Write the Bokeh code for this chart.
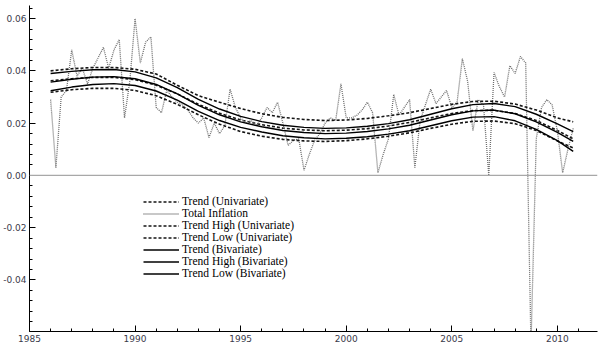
import numpy as np
from bokeh.plotting import figure
from bokeh.models import (Range1d, FixedTicker, PrintfTickFormatter, Span,
                          Legend, LegendItem)
from bokeh.embed import file_html
from bokeh.resources import INLINE

# ---------------- data ----------------
# Total inflation, quarterly from 1986Q1 to 2010Q4
infl_start_year = 1986
infl = [
    0.029, 0.003, 0.030, 0.0325, 0.048, 0.038, 0.041, 0.035,     # 1986-1987
    0.041, 0.045, 0.049, 0.041, 0.048, 0.052, 0.022, 0.036,      # 1988-1989
    0.060, 0.043, 0.051, 0.053, 0.026, 0.024, 0.0325, 0.030,     # 1990-1991
    0.028, 0.027, 0.025, 0.022, 0.020, 0.022, 0.0145, 0.020,     # 1992-1993
    0.016, 0.019, 0.033, 0.026, 0.022, 0.020, 0.021, 0.019,      # 1994-1995
    0.022, 0.026, 0.024, 0.028, 0.020, 0.0115, 0.0134, 0.014,    # 1996-1997
    0.002, 0.008, 0.0134, 0.016, 0.020, 0.022, 0.021, 0.035,     # 1998-1999
    0.022, 0.022, 0.023, 0.025, 0.028, 0.024, 0.001, 0.008,      # 2000-2001
    0.014, 0.031, 0.023, 0.026, 0.029, 0.003, 0.021, 0.027,      # 2002-2003
    0.033, 0.0275, 0.030, 0.0325, 0.026, 0.028, 0.0447, 0.036,   # 2004-2005
    0.017, 0.029, 0.027, 0.000, 0.0394, 0.034, 0.030, 0.042,     # 2006-2007
    0.039, 0.0455, 0.043, -0.065, 0.014, 0.026, 0.029, 0.027,    # 2008-2009
    0.017, 0.001, 0.010, 0.018,                                  # 2010
]
infl_years = [infl_start_year + i / 4 for i in range(len(infl))]

trend_years = [1986, 1987, 1988, 1989, 1990, 1991, 1992, 1993, 1994, 1995,
               1996, 1997, 1998, 1999, 2000, 2001, 2002, 2003, 2004, 2005,
               2006, 2007, 2008, 2009, 2010, 2010.75]

trend_uni = [0.0362, 0.0370, 0.0375, 0.0375, 0.0366, 0.0345, 0.0312, 0.0272,
             0.0238, 0.0212, 0.0194, 0.0181, 0.0174, 0.0171, 0.0173, 0.0179,
             0.0189, 0.0203, 0.0220, 0.0237, 0.0248, 0.0249, 0.0237, 0.0210,
             0.0172, 0.0140]
trend_uni_high = [0.0400, 0.0408, 0.0413, 0.0413, 0.0406, 0.0388, 0.0345, 0.0305,
                  0.0280, 0.0256, 0.0236, 0.0222, 0.0214, 0.0210, 0.0212, 0.0218,
                  0.0228, 0.0240, 0.0256, 0.0272, 0.0283, 0.0284, 0.0273, 0.0250,
                  0.0220, 0.0205]
trend_uni_low = [0.0318, 0.0328, 0.0333, 0.0333, 0.0325, 0.0305, 0.0272, 0.0232,
                 0.0196, 0.0168, 0.0150, 0.0138, 0.0132, 0.0130, 0.0133, 0.0140,
                 0.0150, 0.0163, 0.0180, 0.0196, 0.0207, 0.0208, 0.0198, 0.0172,
                 0.0132, 0.0105]
trend_bi = [0.0357, 0.0368, 0.0376, 0.0378, 0.0370, 0.0348, 0.0312, 0.0268,
            0.0232, 0.0205, 0.0186, 0.0172, 0.0164, 0.0160, 0.0162, 0.0168,
            0.0178, 0.0192, 0.0212, 0.0232, 0.0247, 0.0250, 0.0236, 0.0205,
            0.0165, 0.0130]
trend_bi_high = [0.0390, 0.0398, 0.0404, 0.0405, 0.0396, 0.0373, 0.0336, 0.0291,
                 0.0254, 0.0226, 0.0206, 0.0192, 0.0184, 0.0180, 0.0182, 0.0188,
                 0.0198, 0.0213, 0.0234, 0.0255, 0.0271, 0.0275, 0.0263, 0.0234,
                 0.0197, 0.0168]
trend_bi_low = [0.0324, 0.0338, 0.0348, 0.0351, 0.0344, 0.0323, 0.0288, 0.0245,
                0.0210, 0.0184, 0.0166, 0.0152, 0.0144, 0.0140, 0.0142, 0.0148,
                0.0158, 0.0171, 0.0190, 0.0209, 0.0223, 0.0225, 0.0209, 0.0176,
                0.0133, 0.0092]

x_major = [1985, 1990, 1995, 2000, 2005, 2010]
y_major = [-0.04, -0.02, 0.0, 0.02, 0.04, 0.06]

# ---------------- figure ----------------
p = figure(width=600, height=351, output_backend="svg", toolbar_location=None,
           x_range=Range1d(1985, 2011.9), y_range=Range1d(-0.0597, 0.065),
           min_border_left=29, min_border_right=3, min_border_top=5,
           min_border_bottom=20)
p.outline_line_color = None
p.grid.visible = False
p.background_fill_color = "white"

p.add_layout(Span(location=0, dimension="width", line_color="#a8a8a8",
                  line_width=1.2))

dash_col = "#151515"
r_uni = p.line(trend_years, trend_uni, line_color=dash_col, line_width=1.6,
               line_dash="3 2")
r_tot = p.line(infl_years, infl, line_color="#6e6e6e", line_width=1.3,
               line_dash="1 1")
r_uh = p.line(trend_years, trend_uni_high, line_color=dash_col, line_width=1.6,
              line_dash="3 2")
r_ul = p.line(trend_years, trend_uni_low, line_color=dash_col, line_width=1.6,
              line_dash="3 2")
r_bi = p.line(trend_years, trend_bi, line_color="#000000", line_width=1.4)
r_bh = p.line(trend_years, trend_bi_high, line_color="#000000", line_width=1.4)
r_bl = p.line(trend_years, trend_bi_low, line_color="#000000", line_width=1.4)

# axes
xa = p.xaxis[0]
xa.ticker = FixedTicker(ticks=x_major,
                        minor_ticks=list(np.arange(1985, 2012, 1.0)))
ya = p.yaxis[0]
ya.ticker = FixedTicker(ticks=y_major,
                        minor_ticks=list(np.round(np.arange(-0.06, 0.0641, 0.004), 4)))
ya.formatter = PrintfTickFormatter(format="%.2f")
for ax in (xa, ya):
    ax.axis_line_color = "black"
    ax.axis_line_width = 1
    ax.major_tick_in = 6
    ax.major_tick_out = 0
    ax.minor_tick_in = 3
    ax.minor_tick_out = 0
    ax.major_tick_line_color = "black"
    ax.minor_tick_line_color = "black"
    ax.major_label_text_font = "DejaVu Sans"
    ax.major_label_text_font_size = "9px"
    ax.major_label_text_color = "#3a3a4a"
xa.major_label_standoff = 3
ya.major_label_standoff = 3

legend = Legend(items=[
    LegendItem(label="Trend (Univariate)", renderers=[r_uni]),
    LegendItem(label="Total Inflation", renderers=[r_tot]),
    LegendItem(label="Trend High (Univariate)", renderers=[r_uh]),
    LegendItem(label="Trend Low (Univariate)", renderers=[r_ul]),
    LegendItem(label="Trend (Bivariate)", renderers=[r_bi]),
    LegendItem(label="Trend High (Bivariate)", renderers=[r_bh]),
    LegendItem(label="Trend Low (Bivariate)", renderers=[r_bl]),
], location=(114, 52))
legend.label_text_font = "Liberation Serif"
legend.label_text_font_size = "11.5px"
legend.label_text_color = "black"
legend.glyph_width = 36
legend.glyph_height = 11
legend.label_height = 11
legend.label_standoff = 3
legend.spacing = 0
legend.padding = 0
legend.margin = 0
legend.border_line_alpha = 0
legend.background_fill_alpha = 0
p.add_layout(legend)

open("out.html", "w").write(file_html(p, INLINE))
